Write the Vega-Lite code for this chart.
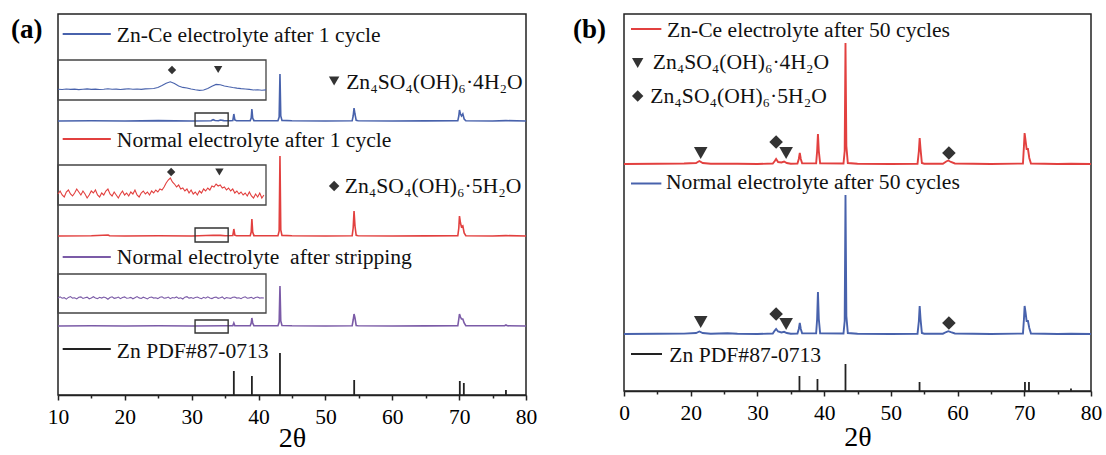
{
  "$schema": "https://vega.github.io/schema/vega-lite/v6.json",
  "background": "white",
  "padding": {"left": 10, "top": 13, "right": 0, "bottom": 0},
  "bounds": "flush",
  "spacing": 98,
  "config": {
    "font": "Liberation Serif",
    "view": {"stroke": "#222222", "strokeWidth": 1.5}
  },
  "datasets": {
    "a_lines": [
      {"s":"Zn-Ce 1 cycle","t":10,"y":274},{"s":"Zn-Ce 1 cycle","t":15,"y":274.3},{"s":"Zn-Ce 1 cycle","t":20,"y":274},{"s":"Zn-Ce 1 cycle","t":25,"y":274.4},{"s":"Zn-Ce 1 cycle","t":30,"y":274},{"s":"Zn-Ce 1 cycle","t":32.9,"y":274.3},{"s":"Zn-Ce 1 cycle","t":33.2,"y":275.3},{"s":"Zn-Ce 1 cycle","t":33.5,"y":274.5},{"s":"Zn-Ce 1 cycle","t":34.0,"y":274.3},{"s":"Zn-Ce 1 cycle","t":34.3,"y":275},{"s":"Zn-Ce 1 cycle","t":34.8,"y":274.4},{"s":"Zn-Ce 1 cycle","t":35.8,"y":274.2},{"s":"Zn-Ce 1 cycle","t":36.15,"y":274.5},{"s":"Zn-Ce 1 cycle","t":36.3,"y":281},{"s":"Zn-Ce 1 cycle","t":36.45,"y":275},{"s":"Zn-Ce 1 cycle","t":36.7,"y":274.3},{"s":"Zn-Ce 1 cycle","t":38.75,"y":274.4},{"s":"Zn-Ce 1 cycle","t":38.9,"y":277},{"s":"Zn-Ce 1 cycle","t":39.0,"y":286},{"s":"Zn-Ce 1 cycle","t":39.12,"y":277},{"s":"Zn-Ce 1 cycle","t":39.3,"y":274.4},{"s":"Zn-Ce 1 cycle","t":42.9,"y":274.2},{"s":"Zn-Ce 1 cycle","t":43.08,"y":278},{"s":"Zn-Ce 1 cycle","t":43.2,"y":321},{"s":"Zn-Ce 1 cycle","t":43.32,"y":279},{"s":"Zn-Ce 1 cycle","t":43.5,"y":274.6},{"s":"Zn-Ce 1 cycle","t":45,"y":274.2},{"s":"Zn-Ce 1 cycle","t":50,"y":274},{"s":"Zn-Ce 1 cycle","t":54.0,"y":274.2},{"s":"Zn-Ce 1 cycle","t":54.15,"y":279},{"s":"Zn-Ce 1 cycle","t":54.28,"y":287},{"s":"Zn-Ce 1 cycle","t":54.42,"y":281},{"s":"Zn-Ce 1 cycle","t":54.6,"y":274.6},{"s":"Zn-Ce 1 cycle","t":54.9,"y":274.2},{"s":"Zn-Ce 1 cycle","t":60,"y":274},{"s":"Zn-Ce 1 cycle","t":65,"y":274.1},{"s":"Zn-Ce 1 cycle","t":69.8,"y":274.2},{"s":"Zn-Ce 1 cycle","t":69.95,"y":279},{"s":"Zn-Ce 1 cycle","t":70.05,"y":285},{"s":"Zn-Ce 1 cycle","t":70.2,"y":281},{"s":"Zn-Ce 1 cycle","t":70.35,"y":279},{"s":"Zn-Ce 1 cycle","t":70.55,"y":281},{"s":"Zn-Ce 1 cycle","t":70.75,"y":276},{"s":"Zn-Ce 1 cycle","t":71.0,"y":274.3},{"s":"Zn-Ce 1 cycle","t":75,"y":274},{"s":"Zn-Ce 1 cycle","t":77,"y":274.4},{"s":"Zn-Ce 1 cycle","t":80,"y":274},

      {"s":"Normal 1 cycle","t":10,"y":159},{"s":"Normal 1 cycle","t":15,"y":159.3},{"s":"Normal 1 cycle","t":17.5,"y":160},{"s":"Normal 1 cycle","t":17.7,"y":159.2},{"s":"Normal 1 cycle","t":20,"y":159},{"s":"Normal 1 cycle","t":25,"y":159.3},{"s":"Normal 1 cycle","t":30,"y":159},{"s":"Normal 1 cycle","t":33.2,"y":159.8},{"s":"Normal 1 cycle","t":34.3,"y":159.6},{"s":"Normal 1 cycle","t":35,"y":159.2},{"s":"Normal 1 cycle","t":36.15,"y":159.5},{"s":"Normal 1 cycle","t":36.3,"y":166},{"s":"Normal 1 cycle","t":36.45,"y":159.8},{"s":"Normal 1 cycle","t":36.7,"y":159.2},{"s":"Normal 1 cycle","t":38.75,"y":159.4},{"s":"Normal 1 cycle","t":38.9,"y":163},{"s":"Normal 1 cycle","t":39.0,"y":176},{"s":"Normal 1 cycle","t":39.12,"y":163},{"s":"Normal 1 cycle","t":39.3,"y":159.4},{"s":"Normal 1 cycle","t":42.9,"y":159.2},{"s":"Normal 1 cycle","t":43.08,"y":164},{"s":"Normal 1 cycle","t":43.2,"y":239},{"s":"Normal 1 cycle","t":43.32,"y":165},{"s":"Normal 1 cycle","t":43.5,"y":159.6},{"s":"Normal 1 cycle","t":45,"y":159.2},{"s":"Normal 1 cycle","t":50,"y":159},{"s":"Normal 1 cycle","t":54.0,"y":159.2},{"s":"Normal 1 cycle","t":54.15,"y":167},{"s":"Normal 1 cycle","t":54.28,"y":184},{"s":"Normal 1 cycle","t":54.42,"y":169},{"s":"Normal 1 cycle","t":54.6,"y":159.6},{"s":"Normal 1 cycle","t":54.9,"y":159.2},{"s":"Normal 1 cycle","t":60,"y":159},{"s":"Normal 1 cycle","t":65,"y":159.1},{"s":"Normal 1 cycle","t":69.8,"y":159.2},{"s":"Normal 1 cycle","t":69.95,"y":167},{"s":"Normal 1 cycle","t":70.05,"y":179},{"s":"Normal 1 cycle","t":70.2,"y":172},{"s":"Normal 1 cycle","t":70.35,"y":168},{"s":"Normal 1 cycle","t":70.55,"y":169},{"s":"Normal 1 cycle","t":70.75,"y":162},{"s":"Normal 1 cycle","t":71.0,"y":159.3},{"s":"Normal 1 cycle","t":75,"y":159},{"s":"Normal 1 cycle","t":77,"y":159.4},{"s":"Normal 1 cycle","t":80,"y":159},

      {"s":"Normal stripping","t":10,"y":69},{"s":"Normal stripping","t":15,"y":69.3},{"s":"Normal stripping","t":20,"y":69},{"s":"Normal stripping","t":25,"y":69.3},{"s":"Normal stripping","t":30,"y":69},{"s":"Normal stripping","t":35,"y":69.2},{"s":"Normal stripping","t":36.15,"y":69.3},{"s":"Normal stripping","t":36.3,"y":72},{"s":"Normal stripping","t":36.45,"y":69.3},{"s":"Normal stripping","t":38.75,"y":69.3},{"s":"Normal stripping","t":38.9,"y":72},{"s":"Normal stripping","t":39.0,"y":77},{"s":"Normal stripping","t":39.12,"y":72},{"s":"Normal stripping","t":39.3,"y":69.3},{"s":"Normal stripping","t":42.9,"y":69.2},{"s":"Normal stripping","t":43.08,"y":73},{"s":"Normal stripping","t":43.2,"y":109},{"s":"Normal stripping","t":43.32,"y":74},{"s":"Normal stripping","t":43.5,"y":69.5},{"s":"Normal stripping","t":45,"y":69.2},{"s":"Normal stripping","t":50,"y":69},{"s":"Normal stripping","t":54.0,"y":69.2},{"s":"Normal stripping","t":54.15,"y":75},{"s":"Normal stripping","t":54.28,"y":81},{"s":"Normal stripping","t":54.42,"y":77},{"s":"Normal stripping","t":54.6,"y":69.5},{"s":"Normal stripping","t":54.9,"y":69.2},{"s":"Normal stripping","t":60,"y":69},{"s":"Normal stripping","t":65,"y":69.1},{"s":"Normal stripping","t":69.8,"y":69.2},{"s":"Normal stripping","t":69.95,"y":76},{"s":"Normal stripping","t":70.05,"y":81},{"s":"Normal stripping","t":70.2,"y":78},{"s":"Normal stripping","t":70.35,"y":76},{"s":"Normal stripping","t":70.55,"y":76},{"s":"Normal stripping","t":70.75,"y":72},{"s":"Normal stripping","t":71.0,"y":69.3},{"s":"Normal stripping","t":76.8,"y":69.2},{"s":"Normal stripping","t":77.0,"y":70},{"s":"Normal stripping","t":77.2,"y":69.2},{"s":"Normal stripping","t":80,"y":69}
    ],
    "a_sticks": [
      {"t":36.3,"y":24},{"t":39.0,"y":19},{"t":43.2,"y":42},{"t":54.3,"y":15},{"t":70.1,"y":14},{"t":70.7,"y":12},{"t":77.0,"y":5}
    ],
    "a_boxes": [
      {"t":30.5,"t2":35.45,"y":282,"y2":269},
      {"t":30.5,"t2":35.45,"y":167,"y2":153},
      {"t":30.5,"t2":35.45,"y":75,"y2":62}
    ],
    "a_keys": [
      {"s":"Zn-Ce 1 cycle","t":10.7,"t2":17.9,"y":361},
      {"s":"Normal 1 cycle","t":10.7,"t2":17.9,"y":256},
      {"s":"Normal stripping","t":10.7,"t2":17.9,"y":138},
      {"s":"Zn PDF","t":10.7,"t2":17.9,"y":46}
    ],
    "a_text": [
      {"t":18.8,"y":353,"label":"Zn-Ce electrolyte after 1 cycle"},
      {"t":18.8,"y":248,"label":"Normal electrolyte after 1 cycle"},
      {"t":18.8,"y":131,"label":"Normal electrolyte\u00a0 after stripping"},
      {"t":18.8,"y":37,"label":"Zn PDF#87-0713"},
      {"t":53.1,"y":306,"label":"Zn₄SO₄(OH)₆·4H₂O"},
      {"t":52.9,"y":202,"label":"Zn₄SO₄(OH)₆·5H₂O"}
    ],
    "a_marks": [
      {"t":51.3,"y":314,"m":"tri"},
      {"t":51.3,"y":209,"m":"dia"}
    ],
    "a_inset_boxes": [
      {"t":30.5,"t2":35.5,"y":335,"y2":295},
      {"t":30.5,"t2":35.5,"y":230,"y2":190},
      {"t":30.5,"t2":35.5,"y":121,"y2":82}
    ],
    "a_inset_marks": [
      {"t":33.24,"y":325,"m":"dia"},
      {"t":34.35,"y":325.5,"m":"tri"},
      {"t":33.22,"y":223,"m":"dia"},
      {"t":34.38,"y":223,"m":"tri"}
    ],
    "a_inset_lines": [
      {"s":"Zn-Ce 1 cycle","t":30.5,"y":305.8},{"s":"Zn-Ce 1 cycle","t":30.6,"y":305.5},{"s":"Zn-Ce 1 cycle","t":30.7,"y":306.0},{"s":"Zn-Ce 1 cycle","t":30.8,"y":305.6},{"s":"Zn-Ce 1 cycle","t":30.9,"y":305.9},{"s":"Zn-Ce 1 cycle","t":31.0,"y":305.4},{"s":"Zn-Ce 1 cycle","t":31.1,"y":305.8},{"s":"Zn-Ce 1 cycle","t":31.2,"y":306.1},{"s":"Zn-Ce 1 cycle","t":31.3,"y":305.6},{"s":"Zn-Ce 1 cycle","t":31.4,"y":305.9},{"s":"Zn-Ce 1 cycle","t":31.5,"y":305.5},{"s":"Zn-Ce 1 cycle","t":31.6,"y":305.8},{"s":"Zn-Ce 1 cycle","t":31.7,"y":306.2},{"s":"Zn-Ce 1 cycle","t":31.8,"y":305.7},{"s":"Zn-Ce 1 cycle","t":31.9,"y":305.9},{"s":"Zn-Ce 1 cycle","t":32.0,"y":305.5},{"s":"Zn-Ce 1 cycle","t":32.1,"y":305.9},{"s":"Zn-Ce 1 cycle","t":32.2,"y":306.2},{"s":"Zn-Ce 1 cycle","t":32.3,"y":305.7},{"s":"Zn-Ce 1 cycle","t":32.4,"y":306.0},{"s":"Zn-Ce 1 cycle","t":32.5,"y":305.6},{"s":"Zn-Ce 1 cycle","t":32.6,"y":306.1},{"s":"Zn-Ce 1 cycle","t":32.7,"y":306.3},{"s":"Zn-Ce 1 cycle","t":32.8,"y":306.5},{"s":"Zn-Ce 1 cycle","t":32.9,"y":307.5},{"s":"Zn-Ce 1 cycle","t":33.0,"y":309.5},{"s":"Zn-Ce 1 cycle","t":33.1,"y":311.8},{"s":"Zn-Ce 1 cycle","t":33.2,"y":313.2},{"s":"Zn-Ce 1 cycle","t":33.3,"y":311.5},{"s":"Zn-Ce 1 cycle","t":33.4,"y":309.0},{"s":"Zn-Ce 1 cycle","t":33.5,"y":307.6},{"s":"Zn-Ce 1 cycle","t":33.6,"y":307.0},{"s":"Zn-Ce 1 cycle","t":33.7,"y":306.0},{"s":"Zn-Ce 1 cycle","t":33.8,"y":305.2},{"s":"Zn-Ce 1 cycle","t":33.9,"y":304.6},{"s":"Zn-Ce 1 cycle","t":34.0,"y":305.0},{"s":"Zn-Ce 1 cycle","t":34.1,"y":306.5},{"s":"Zn-Ce 1 cycle","t":34.2,"y":308.8},{"s":"Zn-Ce 1 cycle","t":34.3,"y":310.6},{"s":"Zn-Ce 1 cycle","t":34.4,"y":310.2},{"s":"Zn-Ce 1 cycle","t":34.5,"y":309.0},{"s":"Zn-Ce 1 cycle","t":34.6,"y":308.2},{"s":"Zn-Ce 1 cycle","t":34.7,"y":307.5},{"s":"Zn-Ce 1 cycle","t":34.8,"y":306.9},{"s":"Zn-Ce 1 cycle","t":34.9,"y":306.4},{"s":"Zn-Ce 1 cycle","t":35.0,"y":306.0},{"s":"Zn-Ce 1 cycle","t":35.1,"y":305.6},{"s":"Zn-Ce 1 cycle","t":35.2,"y":305.0},{"s":"Zn-Ce 1 cycle","t":35.3,"y":305.3},{"s":"Zn-Ce 1 cycle","t":35.4,"y":304.8},{"s":"Zn-Ce 1 cycle","t":35.5,"y":305.1},

      {"s":"Normal 1 cycle","t":30.50,"y":201},{"s":"Normal 1 cycle","t":30.55,"y":204},{"s":"Normal 1 cycle","t":30.60,"y":200},{"s":"Normal 1 cycle","t":30.65,"y":198},{"s":"Normal 1 cycle","t":30.70,"y":203},{"s":"Normal 1 cycle","t":30.75,"y":205},{"s":"Normal 1 cycle","t":30.80,"y":201},{"s":"Normal 1 cycle","t":30.85,"y":199},{"s":"Normal 1 cycle","t":30.90,"y":202},{"s":"Normal 1 cycle","t":30.95,"y":206},
      {"s":"Normal 1 cycle","t":31.00,"y":203},{"s":"Normal 1 cycle","t":31.05,"y":200},{"s":"Normal 1 cycle","t":31.10,"y":204},{"s":"Normal 1 cycle","t":31.15,"y":201},{"s":"Normal 1 cycle","t":31.20,"y":197},{"s":"Normal 1 cycle","t":31.25,"y":200},{"s":"Normal 1 cycle","t":31.30,"y":204},{"s":"Normal 1 cycle","t":31.35,"y":202},{"s":"Normal 1 cycle","t":31.40,"y":205},{"s":"Normal 1 cycle","t":31.45,"y":200},
      {"s":"Normal 1 cycle","t":31.50,"y":198},{"s":"Normal 1 cycle","t":31.55,"y":202},{"s":"Normal 1 cycle","t":31.60,"y":200},{"s":"Normal 1 cycle","t":31.65,"y":204},{"s":"Normal 1 cycle","t":31.70,"y":206},{"s":"Normal 1 cycle","t":31.75,"y":201},{"s":"Normal 1 cycle","t":31.80,"y":199},{"s":"Normal 1 cycle","t":31.85,"y":203},{"s":"Normal 1 cycle","t":31.90,"y":200},{"s":"Normal 1 cycle","t":31.95,"y":197},
      {"s":"Normal 1 cycle","t":32.00,"y":201},{"s":"Normal 1 cycle","t":32.05,"y":204},{"s":"Normal 1 cycle","t":32.10,"y":200},{"s":"Normal 1 cycle","t":32.15,"y":202},{"s":"Normal 1 cycle","t":32.20,"y":199},{"s":"Normal 1 cycle","t":32.25,"y":203},{"s":"Normal 1 cycle","t":32.30,"y":201},{"s":"Normal 1 cycle","t":32.35,"y":205},{"s":"Normal 1 cycle","t":32.40,"y":200},{"s":"Normal 1 cycle","t":32.45,"y":198},
      {"s":"Normal 1 cycle","t":32.50,"y":202},{"s":"Normal 1 cycle","t":32.55,"y":204},{"s":"Normal 1 cycle","t":32.60,"y":201},{"s":"Normal 1 cycle","t":32.65,"y":203},{"s":"Normal 1 cycle","t":32.70,"y":200},{"s":"Normal 1 cycle","t":32.75,"y":204},{"s":"Normal 1 cycle","t":32.80,"y":202},{"s":"Normal 1 cycle","t":32.85,"y":205},{"s":"Normal 1 cycle","t":32.90,"y":203},{"s":"Normal 1 cycle","t":32.95,"y":206},
      {"s":"Normal 1 cycle","t":33.00,"y":205},{"s":"Normal 1 cycle","t":33.05,"y":208},{"s":"Normal 1 cycle","t":33.10,"y":212},{"s":"Normal 1 cycle","t":33.15,"y":215},{"s":"Normal 1 cycle","t":33.20,"y":217},{"s":"Normal 1 cycle","t":33.25,"y":213},{"s":"Normal 1 cycle","t":33.30,"y":211},{"s":"Normal 1 cycle","t":33.35,"y":208},{"s":"Normal 1 cycle","t":33.40,"y":210},{"s":"Normal 1 cycle","t":33.45,"y":206},
      {"s":"Normal 1 cycle","t":33.50,"y":207},{"s":"Normal 1 cycle","t":33.55,"y":204},{"s":"Normal 1 cycle","t":33.60,"y":206},{"s":"Normal 1 cycle","t":33.65,"y":202},{"s":"Normal 1 cycle","t":33.70,"y":205},{"s":"Normal 1 cycle","t":33.75,"y":201},{"s":"Normal 1 cycle","t":33.80,"y":203},{"s":"Normal 1 cycle","t":33.85,"y":200},{"s":"Normal 1 cycle","t":33.90,"y":204},{"s":"Normal 1 cycle","t":33.95,"y":202},
      {"s":"Normal 1 cycle","t":34.00,"y":206},{"s":"Normal 1 cycle","t":34.05,"y":204},{"s":"Normal 1 cycle","t":34.10,"y":207},{"s":"Normal 1 cycle","t":34.15,"y":205},{"s":"Normal 1 cycle","t":34.20,"y":209},{"s":"Normal 1 cycle","t":34.25,"y":208},{"s":"Normal 1 cycle","t":34.30,"y":211},{"s":"Normal 1 cycle","t":34.35,"y":209},{"s":"Normal 1 cycle","t":34.40,"y":210},{"s":"Normal 1 cycle","t":34.45,"y":207},
      {"s":"Normal 1 cycle","t":34.50,"y":208},{"s":"Normal 1 cycle","t":34.55,"y":205},{"s":"Normal 1 cycle","t":34.60,"y":207},{"s":"Normal 1 cycle","t":34.65,"y":204},{"s":"Normal 1 cycle","t":34.70,"y":206},{"s":"Normal 1 cycle","t":34.75,"y":202},{"s":"Normal 1 cycle","t":34.80,"y":204},{"s":"Normal 1 cycle","t":34.85,"y":201},{"s":"Normal 1 cycle","t":34.90,"y":203},{"s":"Normal 1 cycle","t":34.95,"y":200},
      {"s":"Normal 1 cycle","t":35.00,"y":202},{"s":"Normal 1 cycle","t":35.05,"y":199},{"s":"Normal 1 cycle","t":35.10,"y":203},{"s":"Normal 1 cycle","t":35.15,"y":199},{"s":"Normal 1 cycle","t":35.20,"y":197},{"s":"Normal 1 cycle","t":35.25,"y":201},{"s":"Normal 1 cycle","t":35.30,"y":198},{"s":"Normal 1 cycle","t":35.35,"y":202},{"s":"Normal 1 cycle","t":35.40,"y":197},{"s":"Normal 1 cycle","t":35.45,"y":200},

      {"s":"Normal stripping","t":30.50,"y":97.0},{"s":"Normal stripping","t":30.55,"y":98.2},{"s":"Normal stripping","t":30.60,"y":96.8},{"s":"Normal stripping","t":30.65,"y":97.4},{"s":"Normal stripping","t":30.70,"y":95.9},{"s":"Normal stripping","t":30.75,"y":97.6},{"s":"Normal stripping","t":30.80,"y":98.4},{"s":"Normal stripping","t":30.85,"y":96.9},{"s":"Normal stripping","t":30.90,"y":97.2},{"s":"Normal stripping","t":30.95,"y":96.1},
      {"s":"Normal stripping","t":31.00,"y":97.8},{"s":"Normal stripping","t":31.05,"y":98.1},{"s":"Normal stripping","t":31.10,"y":96.6},{"s":"Normal stripping","t":31.15,"y":97.3},{"s":"Normal stripping","t":31.20,"y":97.9},{"s":"Normal stripping","t":31.25,"y":96.2},{"s":"Normal stripping","t":31.30,"y":97.1},{"s":"Normal stripping","t":31.35,"y":98.3},{"s":"Normal stripping","t":31.40,"y":97.0},{"s":"Normal stripping","t":31.45,"y":96.4},
      {"s":"Normal stripping","t":31.50,"y":97.7},{"s":"Normal stripping","t":31.55,"y":96.9},{"s":"Normal stripping","t":31.60,"y":98.0},{"s":"Normal stripping","t":31.65,"y":97.2},{"s":"Normal stripping","t":31.70,"y":95.8},{"s":"Normal stripping","t":31.75,"y":97.5},{"s":"Normal stripping","t":31.80,"y":98.2},{"s":"Normal stripping","t":31.85,"y":96.7},{"s":"Normal stripping","t":31.90,"y":97.1},{"s":"Normal stripping","t":31.95,"y":97.9},
      {"s":"Normal stripping","t":32.00,"y":96.3},{"s":"Normal stripping","t":32.05,"y":97.4},{"s":"Normal stripping","t":32.10,"y":98.1},{"s":"Normal stripping","t":32.15,"y":96.8},{"s":"Normal stripping","t":32.20,"y":97.0},{"s":"Normal stripping","t":32.25,"y":97.6},{"s":"Normal stripping","t":32.30,"y":96.2},{"s":"Normal stripping","t":32.35,"y":97.3},{"s":"Normal stripping","t":32.40,"y":98.4},{"s":"Normal stripping","t":32.45,"y":97.1},
      {"s":"Normal stripping","t":32.50,"y":96.5},{"s":"Normal stripping","t":32.55,"y":97.8},{"s":"Normal stripping","t":32.60,"y":97.0},{"s":"Normal stripping","t":32.65,"y":96.1},{"s":"Normal stripping","t":32.70,"y":97.6},{"s":"Normal stripping","t":32.75,"y":98.0},{"s":"Normal stripping","t":32.80,"y":96.9},{"s":"Normal stripping","t":32.85,"y":97.3},{"s":"Normal stripping","t":32.90,"y":96.4},{"s":"Normal stripping","t":32.95,"y":97.7},
      {"s":"Normal stripping","t":33.00,"y":98.2},{"s":"Normal stripping","t":33.05,"y":96.8},{"s":"Normal stripping","t":33.10,"y":97.1},{"s":"Normal stripping","t":33.15,"y":97.9},{"s":"Normal stripping","t":33.20,"y":96.3},{"s":"Normal stripping","t":33.25,"y":97.5},{"s":"Normal stripping","t":33.30,"y":97.0},{"s":"Normal stripping","t":33.35,"y":98.1},{"s":"Normal stripping","t":33.40,"y":96.6},{"s":"Normal stripping","t":33.45,"y":97.2},
      {"s":"Normal stripping","t":33.50,"y":96.0},{"s":"Normal stripping","t":33.55,"y":97.8},{"s":"Normal stripping","t":33.60,"y":98.3},{"s":"Normal stripping","t":33.65,"y":96.9},{"s":"Normal stripping","t":33.70,"y":97.4},{"s":"Normal stripping","t":33.75,"y":96.5},{"s":"Normal stripping","t":33.80,"y":97.6},{"s":"Normal stripping","t":33.85,"y":98.0},{"s":"Normal stripping","t":33.90,"y":97.1},{"s":"Normal stripping","t":33.95,"y":96.3},
      {"s":"Normal stripping","t":34.00,"y":97.7},{"s":"Normal stripping","t":34.05,"y":96.8},{"s":"Normal stripping","t":34.10,"y":98.2},{"s":"Normal stripping","t":34.15,"y":97.0},{"s":"Normal stripping","t":34.20,"y":96.4},{"s":"Normal stripping","t":34.25,"y":97.5},{"s":"Normal stripping","t":34.30,"y":97.9},{"s":"Normal stripping","t":34.35,"y":96.7},{"s":"Normal stripping","t":34.40,"y":97.3},{"s":"Normal stripping","t":34.45,"y":98.1},
      {"s":"Normal stripping","t":34.50,"y":96.2},{"s":"Normal stripping","t":34.55,"y":97.4},{"s":"Normal stripping","t":34.60,"y":97.0},{"s":"Normal stripping","t":34.65,"y":96.6},{"s":"Normal stripping","t":34.70,"y":97.8},{"s":"Normal stripping","t":34.75,"y":98.0},{"s":"Normal stripping","t":34.80,"y":96.9},{"s":"Normal stripping","t":34.85,"y":97.2},{"s":"Normal stripping","t":34.90,"y":96.3},{"s":"Normal stripping","t":34.95,"y":97.6},
      {"s":"Normal stripping","t":35.00,"y":98.2},{"s":"Normal stripping","t":35.05,"y":96.8},{"s":"Normal stripping","t":35.10,"y":97.1},{"s":"Normal stripping","t":35.15,"y":97.7},{"s":"Normal stripping","t":35.20,"y":96.4},{"s":"Normal stripping","t":35.25,"y":97.5},{"s":"Normal stripping","t":35.30,"y":98.0},{"s":"Normal stripping","t":35.35,"y":96.9},{"s":"Normal stripping","t":35.40,"y":97.3},{"s":"Normal stripping","t":35.45,"y":97.0}
    ],
    "b_lines": [
      {"s":"Zn-Ce 50 cycles","t":10,"y":227},{"s":"Zn-Ce 50 cycles","t":15,"y":227.3},{"s":"Zn-Ce 50 cycles","t":19,"y":227.5},{"s":"Zn-Ce 50 cycles","t":20.8,"y":228},{"s":"Zn-Ce 50 cycles","t":21.3,"y":230},{"s":"Zn-Ce 50 cycles","t":21.8,"y":228},{"s":"Zn-Ce 50 cycles","t":23,"y":227.3},{"s":"Zn-Ce 50 cycles","t":27,"y":227.2},{"s":"Zn-Ce 50 cycles","t":30,"y":227},{"s":"Zn-Ce 50 cycles","t":32.3,"y":227.5},{"s":"Zn-Ce 50 cycles","t":32.6,"y":230},{"s":"Zn-Ce 50 cycles","t":32.8,"y":232},{"s":"Zn-Ce 50 cycles","t":33.1,"y":229},{"s":"Zn-Ce 50 cycles","t":33.6,"y":228.5},{"s":"Zn-Ce 50 cycles","t":34.0,"y":229.5},{"s":"Zn-Ce 50 cycles","t":34.4,"y":228},{"s":"Zn-Ce 50 cycles","t":35,"y":227.3},{"s":"Zn-Ce 50 cycles","t":36.0,"y":227.5},{"s":"Zn-Ce 50 cycles","t":36.2,"y":232},{"s":"Zn-Ce 50 cycles","t":36.35,"y":238},{"s":"Zn-Ce 50 cycles","t":36.5,"y":232},{"s":"Zn-Ce 50 cycles","t":36.7,"y":227.6},{"s":"Zn-Ce 50 cycles","t":38.8,"y":227.6},{"s":"Zn-Ce 50 cycles","t":38.95,"y":240},{"s":"Zn-Ce 50 cycles","t":39.07,"y":257},{"s":"Zn-Ce 50 cycles","t":39.2,"y":240},{"s":"Zn-Ce 50 cycles","t":39.4,"y":227.6},{"s":"Zn-Ce 50 cycles","t":42.9,"y":227.5},{"s":"Zn-Ce 50 cycles","t":43.08,"y":240},{"s":"Zn-Ce 50 cycles","t":43.2,"y":348},{"s":"Zn-Ce 50 cycles","t":43.33,"y":245},{"s":"Zn-Ce 50 cycles","t":43.55,"y":228},{"s":"Zn-Ce 50 cycles","t":45,"y":227.3},{"s":"Zn-Ce 50 cycles","t":50,"y":227},{"s":"Zn-Ce 50 cycles","t":54.0,"y":227.3},{"s":"Zn-Ce 50 cycles","t":54.2,"y":240},{"s":"Zn-Ce 50 cycles","t":54.32,"y":253},{"s":"Zn-Ce 50 cycles","t":54.45,"y":242},{"s":"Zn-Ce 50 cycles","t":54.65,"y":228},{"s":"Zn-Ce 50 cycles","t":55,"y":227.3},{"s":"Zn-Ce 50 cycles","t":57.8,"y":227.3},{"s":"Zn-Ce 50 cycles","t":58.3,"y":229.5},{"s":"Zn-Ce 50 cycles","t":58.6,"y":230.5},{"s":"Zn-Ce 50 cycles","t":59.0,"y":229},{"s":"Zn-Ce 50 cycles","t":59.6,"y":227.5},{"s":"Zn-Ce 50 cycles","t":65,"y":227},{"s":"Zn-Ce 50 cycles","t":69.8,"y":227.5},{"s":"Zn-Ce 50 cycles","t":69.95,"y":245},{"s":"Zn-Ce 50 cycles","t":70.05,"y":258},{"s":"Zn-Ce 50 cycles","t":70.2,"y":250},{"s":"Zn-Ce 50 cycles","t":70.35,"y":242},{"s":"Zn-Ce 50 cycles","t":70.55,"y":242},{"s":"Zn-Ce 50 cycles","t":70.75,"y":233},{"s":"Zn-Ce 50 cycles","t":71.0,"y":227.5},{"s":"Zn-Ce 50 cycles","t":75,"y":227},{"s":"Zn-Ce 50 cycles","t":77,"y":227.3},{"s":"Zn-Ce 50 cycles","t":80,"y":227},

      {"s":"Normal 50 cycles","t":10,"y":57},{"s":"Normal 50 cycles","t":15,"y":57.3},{"s":"Normal 50 cycles","t":19,"y":57.4},{"s":"Normal 50 cycles","t":20.8,"y":58},{"s":"Normal 50 cycles","t":21.3,"y":59.5},{"s":"Normal 50 cycles","t":21.8,"y":58},{"s":"Normal 50 cycles","t":23,"y":57.3},{"s":"Normal 50 cycles","t":25.5,"y":57.8},{"s":"Normal 50 cycles","t":27,"y":57.2},{"s":"Normal 50 cycles","t":30,"y":57},{"s":"Normal 50 cycles","t":32.3,"y":57.5},{"s":"Normal 50 cycles","t":32.6,"y":60.5},{"s":"Normal 50 cycles","t":32.8,"y":62},{"s":"Normal 50 cycles","t":33.1,"y":59.5},{"s":"Normal 50 cycles","t":33.6,"y":58.5},{"s":"Normal 50 cycles","t":34.0,"y":59.2},{"s":"Normal 50 cycles","t":34.4,"y":58},{"s":"Normal 50 cycles","t":35,"y":57.3},{"s":"Normal 50 cycles","t":36.0,"y":57.5},{"s":"Normal 50 cycles","t":36.2,"y":62},{"s":"Normal 50 cycles","t":36.35,"y":68},{"s":"Normal 50 cycles","t":36.5,"y":62},{"s":"Normal 50 cycles","t":36.7,"y":57.6},{"s":"Normal 50 cycles","t":38.8,"y":57.6},{"s":"Normal 50 cycles","t":38.95,"y":72},{"s":"Normal 50 cycles","t":39.07,"y":99},{"s":"Normal 50 cycles","t":39.2,"y":72},{"s":"Normal 50 cycles","t":39.4,"y":57.6},{"s":"Normal 50 cycles","t":42.9,"y":57.5},{"s":"Normal 50 cycles","t":43.08,"y":70},{"s":"Normal 50 cycles","t":43.2,"y":196},{"s":"Normal 50 cycles","t":43.33,"y":75},{"s":"Normal 50 cycles","t":43.55,"y":58},{"s":"Normal 50 cycles","t":45,"y":57.3},{"s":"Normal 50 cycles","t":50,"y":57},{"s":"Normal 50 cycles","t":54.0,"y":57.3},{"s":"Normal 50 cycles","t":54.2,"y":70},{"s":"Normal 50 cycles","t":54.32,"y":85},{"s":"Normal 50 cycles","t":54.45,"y":72},{"s":"Normal 50 cycles","t":54.65,"y":58},{"s":"Normal 50 cycles","t":55,"y":57.3},{"s":"Normal 50 cycles","t":57.8,"y":57.3},{"s":"Normal 50 cycles","t":58.3,"y":59},{"s":"Normal 50 cycles","t":58.6,"y":59.8},{"s":"Normal 50 cycles","t":59.0,"y":58.8},{"s":"Normal 50 cycles","t":59.6,"y":57.5},{"s":"Normal 50 cycles","t":65,"y":57},{"s":"Normal 50 cycles","t":69.8,"y":57.5},{"s":"Normal 50 cycles","t":69.95,"y":72},{"s":"Normal 50 cycles","t":70.05,"y":85},{"s":"Normal 50 cycles","t":70.2,"y":78},{"s":"Normal 50 cycles","t":70.35,"y":70},{"s":"Normal 50 cycles","t":70.55,"y":70},{"s":"Normal 50 cycles","t":70.75,"y":63},{"s":"Normal 50 cycles","t":71.0,"y":57.5},{"s":"Normal 50 cycles","t":75,"y":57},{"s":"Normal 50 cycles","t":77,"y":57.3},{"s":"Normal 50 cycles","t":80,"y":57}
    ],
    "b_sticks": [
      {"t":36.3,"y":15},{"t":39.0,"y":12},{"t":43.2,"y":27},{"t":54.3,"y":9},{"t":70.1,"y":9},{"t":70.7,"y":9},{"t":77.0,"y":2.5}
    ],
    "b_keys": [
      {"s":"Zn-Ce 50 cycles","t":11.05,"t2":15.6,"y":362},
      {"s":"Normal 50 cycles","t":11.05,"t2":15.6,"y":207.5},
      {"s":"Zn PDF","t":11.05,"t2":15.7,"y":37}
    ],
    "b_text": [
      {"t":16.45,"y":354,"label":"Zn-Ce electrolyte after 50 cycles"},
      {"t":14.3,"y":322,"label":"Zn₄SO₄(OH)₆·4H₂O"},
      {"t":13.95,"y":288,"label":"Zn₄SO₄(OH)₆·5H₂O"},
      {"t":16.3,"y":202,"label":"Normal electrolyte after 50 cycles"},
      {"t":16.8,"y":29.5,"label":"Zn PDF#87-0713"}
    ],
    "b_marks": [
      {"t":21.5,"y":238,"m":"tri"},{"t":32.8,"y":249,"m":"dia"},{"t":34.3,"y":238,"m":"tri"},{"t":58.7,"y":238,"m":"dia"},
      {"t":21.5,"y":69,"m":"tri"},{"t":32.8,"y":77,"m":"dia"},{"t":34.3,"y":67,"m":"tri"},{"t":58.7,"y":68,"m":"dia"}
    ],
    "b_key_marks": [
      {"t":12.05,"y":328,"m":"tri"},
      {"t":12.05,"y":295,"m":"dia"}
    ]
  },
  "hconcat": [
    {
      "width": 468,
      "height": 381,
      "resolve": {"scale": {"x": "independent"}},
      "layer": [
        {
          "encoding": {
            "x": {
              "field": "t", "type": "quantitative",
              "scale": {"domain": [10, 80], "nice": false, "zero": false},
              "axis": {
                "values": [10, 15, 20, 25, 30, 35, 40, 45, 50, 55, 60, 65, 70, 75, 80],
                "labelExpr": "datum.value % 10 !== 0 ? '' : datum.label",
                "tickSize": {"condition": {"test": "datum.value % 10 !== 0", "value": 3}, "value": 5},
                "tickWidth": 1.5, "tickColor": "#222222",
                "domainColor": "#222222", "domainWidth": 1.5,
                "labelFont": "Liberation Serif", "labelFontSize": 21.5, "labelColor": "#000000",
                "labelPadding": 6, "labelFlush": false, "labelOverlap": false,
                "grid": false,
                "title": "2θ", "titleFont": "Liberation Serif", "titleFontSize": 28,
                "titleFontWeight": "normal", "titleColor": "#000000", "titlePadding": -3
              }
            },
            "y": {"field": "y", "type": "quantitative", "scale": {"domain": [0, 381], "nice": false, "zero": false}, "axis": null}
          },
          "layer": [
            {
              "data": {"name": "a_lines"},
              "mark": {"type": "line", "strokeWidth": 1.6},
              "encoding": {
                "color": {"field": "s", "type": "nominal", "legend": null,
                  "scale": {"domain": ["Zn-Ce 1 cycle", "Normal 1 cycle", "Normal stripping", "Zn PDF", "Zn-Ce 50 cycles", "Normal 50 cycles"],
                            "range": ["#4862ac", "#e2403f", "#7b5ba7", "#222222", "#e2403f", "#4862ac"]}}
              }
            },
            {
              "data": {"name": "a_sticks"},
              "mark": {"type": "rule", "color": "#222222", "strokeWidth": 1.8},
              "encoding": {"y2": {"datum": 0}}
            },
            {
              "data": {"name": "a_boxes"},
              "mark": {"type": "rect", "filled": false, "stroke": "#333333", "strokeWidth": 1.4},
              "encoding": {"x2": {"field": "t2"}, "y2": {"field": "y2"}}
            },
            {
              "data": {"name": "a_keys"},
              "mark": {"type": "rule", "strokeWidth": 2},
              "encoding": {
                "x2": {"field": "t2"},
                "color": {"field": "s", "type": "nominal", "legend": null,
                  "scale": {"domain": ["Zn-Ce 1 cycle", "Normal 1 cycle", "Normal stripping", "Zn PDF", "Zn-Ce 50 cycles", "Normal 50 cycles"],
                            "range": ["#4862ac", "#e2403f", "#7b5ba7", "#222222", "#e2403f", "#4862ac"]}}
              }
            },
            {
              "data": {"name": "a_text"},
              "mark": {"type": "text", "align": "left", "baseline": "alphabetic", "fontSize": 21.6, "color": "#111111", "font": "Liberation Serif"},
              "encoding": {"text": {"field": "label"}}
            },
            {
              "data": {"name": "a_marks"},
              "mark": {"type": "point", "filled": true, "size": 110, "color": "#333333", "opacity": 1},
              "encoding": {
                "shape": {"field": "m", "type": "nominal", "legend": null,
                  "scale": {"domain": ["tri", "dia"], "range": ["triangle-down", "diamond"]}}
              }
            },
            {
              "data": {"values": [{"t": 2.97, "y": 357, "label": "(a)"}]},
              "mark": {"type": "text", "align": "left", "baseline": "alphabetic", "fontSize": 27, "fontWeight": "bold", "color": "#000000", "font": "Liberation Serif"},
              "encoding": {"text": {"field": "label"}}
            }
          ]
        },
        {
          "encoding": {
            "x": {"field": "t", "type": "quantitative", "scale": {"domain": [30.5, 41.75], "nice": false, "zero": false}, "axis": null},
            "y": {"field": "y", "type": "quantitative", "scale": {"domain": [0, 381], "nice": false, "zero": false}, "axis": null}
          },
          "layer": [
            {
              "data": {"name": "a_inset_boxes"},
              "mark": {"type": "rect", "filled": false, "stroke": "#444444", "strokeWidth": 1.3},
              "encoding": {"x2": {"field": "t2"}, "y2": {"field": "y2"}}
            },
            {
              "data": {"name": "a_inset_lines"},
              "mark": {"type": "line", "strokeWidth": 1.1},
              "encoding": {
                "color": {"field": "s", "type": "nominal", "legend": null,
                  "scale": {"domain": ["Zn-Ce 1 cycle", "Normal 1 cycle", "Normal stripping", "Zn PDF", "Zn-Ce 50 cycles", "Normal 50 cycles"],
                            "range": ["#4862ac", "#e2403f", "#7b5ba7", "#222222", "#e2403f", "#4862ac"]}}
              }
            },
            {
              "data": {"name": "a_inset_marks"},
              "mark": {"type": "point", "filled": true, "size": 70, "color": "#333333", "opacity": 1},
              "encoding": {
                "shape": {"field": "m", "type": "nominal", "legend": null,
                  "scale": {"domain": ["tri", "dia"], "range": ["triangle-down", "diamond"]}}
              }
            }
          ]
        }
      ]
    },
    {
      "width": 467,
      "height": 377,
      "encoding": {
        "x": {
          "field": "t", "type": "quantitative",
          "scale": {"domain": [10, 80], "nice": false, "zero": false},
          "axis": {
            "values": [10, 15, 20, 25, 30, 35, 40, 45, 50, 55, 60, 65, 70, 75, 80],
            "labelExpr": "datum.value % 10 !== 0 ? '' : (datum.value === 10 ? '0' : datum.label)",
            "tickSize": {"condition": {"test": "datum.value % 10 !== 0", "value": 3}, "value": 5},
            "tickWidth": 1.5, "tickColor": "#222222",
            "domainColor": "#222222", "domainWidth": 1.5,
            "labelFont": "Liberation Serif", "labelFontSize": 21.5, "labelColor": "#000000",
            "labelPadding": 6, "labelFlush": false, "labelOverlap": false,
            "grid": false,
            "title": "2θ", "titleFont": "Liberation Serif", "titleFontSize": 28,
            "titleFontWeight": "normal", "titleColor": "#000000", "titlePadding": 0
          }
        },
        "y": {"field": "y", "type": "quantitative", "scale": {"domain": [0, 377], "nice": false, "zero": false}, "axis": null}
      },
      "layer": [
        {
          "data": {"name": "b_lines"},
          "mark": {"type": "line", "strokeWidth": 1.9},
          "encoding": {
            "color": {"field": "s", "type": "nominal", "legend": null,
              "scale": {"domain": ["Zn-Ce 1 cycle", "Normal 1 cycle", "Normal stripping", "Zn PDF", "Zn-Ce 50 cycles", "Normal 50 cycles"],
                        "range": ["#4862ac", "#e2403f", "#7b5ba7", "#222222", "#e2403f", "#4862ac"]}}
          }
        },
        {
          "data": {"name": "b_sticks"},
          "mark": {"type": "rule", "color": "#222222", "strokeWidth": 1.8},
          "encoding": {"y2": {"datum": 0}}
        },
        {
          "data": {"name": "b_keys"},
          "mark": {"type": "rule", "strokeWidth": 2},
          "encoding": {
            "x2": {"field": "t2"},
            "color": {"field": "s", "type": "nominal", "legend": null,
              "scale": {"domain": ["Zn-Ce 1 cycle", "Normal 1 cycle", "Normal stripping", "Zn PDF", "Zn-Ce 50 cycles", "Normal 50 cycles"],
                        "range": ["#4862ac", "#e2403f", "#7b5ba7", "#222222", "#e2403f", "#4862ac"]}}
          }
        },
        {
          "data": {"name": "b_text"},
          "mark": {"type": "text", "align": "left", "baseline": "alphabetic", "fontSize": 21.6, "color": "#111111", "font": "Liberation Serif"},
          "encoding": {"text": {"field": "label"}}
        },
        {
          "data": {"name": "b_marks"},
          "mark": {"type": "point", "filled": true, "size": 185, "color": "#333333", "opacity": 1},
          "encoding": {
            "shape": {"field": "m", "type": "nominal", "legend": null,
              "scale": {"domain": ["tri", "dia"], "range": ["triangle-down", "diamond"]}}
          }
        },
        {
          "data": {"name": "b_key_marks"},
          "mark": {"type": "point", "filled": true, "size": 130, "color": "#333333", "opacity": 1},
          "encoding": {
            "shape": {"field": "m", "type": "nominal", "legend": null,
              "scale": {"domain": ["tri", "dia"], "range": ["triangle-down", "diamond"]}}
          }
        },
        {
          "data": {"values": [{"t": 2.35, "y": 353, "label": "(b)"}]},
          "mark": {"type": "text", "align": "left", "baseline": "alphabetic", "fontSize": 27, "fontWeight": "bold", "color": "#000000", "font": "Liberation Serif"},
          "encoding": {"text": {"field": "label"}}
        }
      ]
    }
  ]
}
